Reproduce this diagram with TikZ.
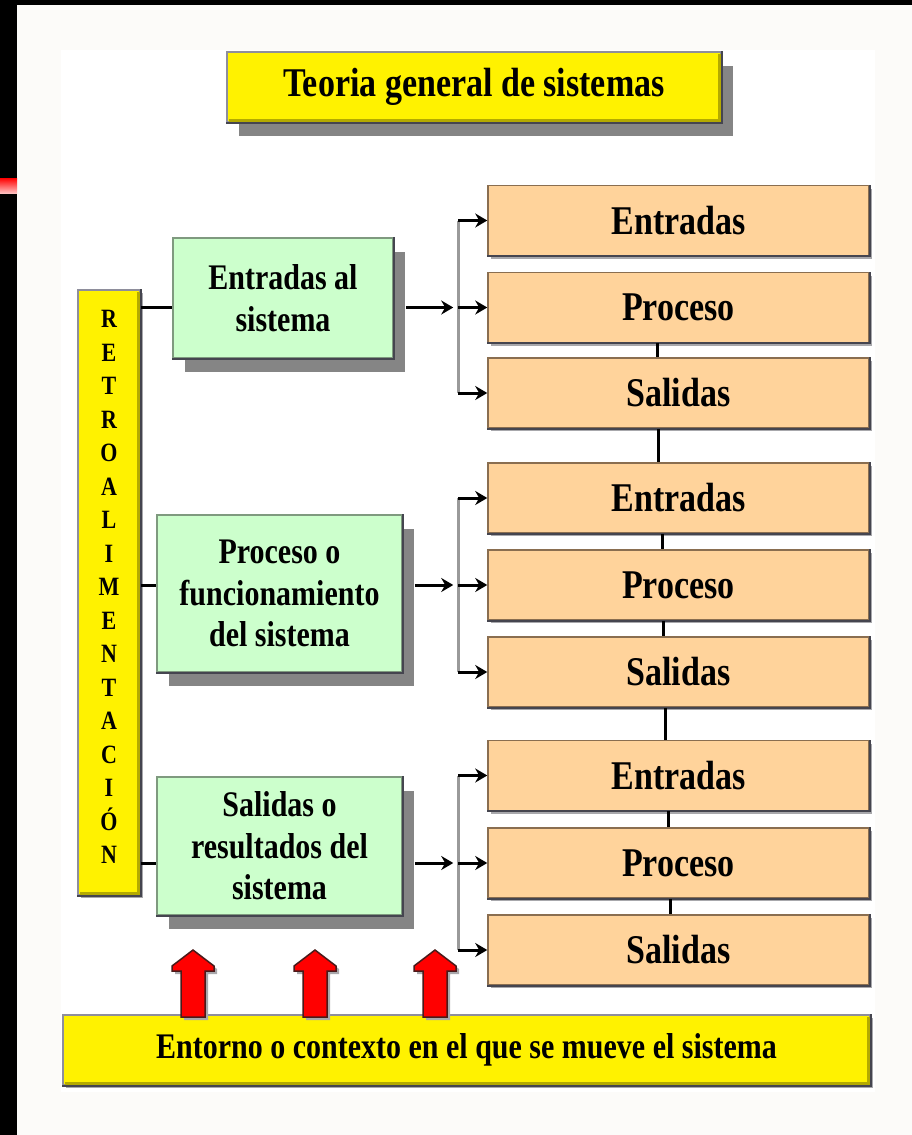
\documentclass[tikz,border=0pt]{standalone}
\usepackage{fontspec}
\usepackage{graphicx}
\setmainfont{Liberation Serif}
\usetikzlibrary{arrows.meta,calc,shadows}
\definecolor{peach}{HTML}{FFD39B}
\definecolor{mint}{HTML}{CCFFCC}
\definecolor{offw}{HTML}{FCFBF9}
\definecolor{shad}{HTML}{858585}
\definecolor{lshad}{HTML}{A8A8AC}
\definecolor{olv}{HTML}{B4AA00}
\definecolor{dk}{HTML}{45454F}
\definecolor{brn}{HTML}{8A6E50}
\definecolor{grb}{HTML}{7F9A7F}
\definecolor{bordg}{HTML}{8E8E9C}
\definecolor{brkgray}{HTML}{9A9A9A}
\definecolor{darkred}{HTML}{4A1A1A}
\newcommand\vst[1]{\scalebox{1}[1.2]{#1}}
\begin{document}
\begin{tikzpicture}[x=1pt,y=-1pt,
  ybox/.style={fill=yellow, draw=bordg, line width=1.5pt, inner sep=0pt},
  bigshadow/.style={drop shadow={shadow xshift=12pt,shadow yshift=-14pt,fill=shad,opacity=1}},
  smallshadow/.style={drop shadow={shadow xshift=3pt,shadow yshift=-3pt,fill=lshad,opacity=1}},
  gbox/.style={fill=mint, draw=grb, line width=1.5pt, inner sep=0pt, bigshadow},
  obox/.style={fill=peach, draw=brn, line width=1.5pt, inner sep=0pt, minimum width=381pt, minimum height=70pt, font=\fontsize{34}{40}\selectfont\bfseries, smallshadow},
  link/.style={line width=3pt, black},
  arr/.style={line width=3pt, black, -{Stealth[length=12pt,width=14pt]}},
  brk/.style={line width=3pt, brkgray},
  redarrow/.style={fill=red, draw=darkred, line width=1.5pt, line join=miter},
]
\useasboundingbox (0,0) rectangle (912,1135);
\fill[offw] (0,0) rectangle (912,1135);
\fill[black] (0,0) rectangle (912,5);
\fill[black] (0,0) rectangle (17,1135);
\shade[top color=red, bottom color=red!25] (0,178) rectangle (17,193);
\fill[white] (61,50) rectangle (875,1092);

% title
\node[ybox, minimum width=494pt, minimum height=70pt, bigshadow] (title) at (474,87)
  {\vst{\fontsize{34}{40}\selectfont\bfseries Teoria general de sistemas}};

% feedback bar
\node[ybox, minimum width=62pt, minimum height=605pt, smallshadow] (retro) at (109,592.5) {};
\node[inner sep=0pt] (rtxt) at ($(retro.center)+(0,-5.5)$)
  {\scalebox{1}[1.2]{\parbox{30pt}{\centering\fontsize{22}{27.9}\selectfont\bfseries R\\E\\T\\R\\O\\A\\L\\I\\M\\E\\N\\T\\A\\C\\I\\Ó\\N}}};

% green boxes
\node[gbox, minimum width=220pt, minimum height=120pt] (g1) at (283,298)
  {\vst{\parbox{220pt}{\centering\fontsize{30}{34.5}\selectfont\bfseries Entradas al\\sistema}}};
\node[gbox, minimum width=245pt, minimum height=157pt] (g2) at (279.5,593.5)
  {\vst{\parbox{245pt}{\centering\fontsize{30}{34.5}\selectfont\bfseries Proceso o\\funcionamiento\\del sistema}}};
\node[gbox, minimum width=245pt, minimum height=138pt] (g3) at (279.5,846)
  {\vst{\parbox{245pt}{\centering\fontsize{30}{34.5}\selectfont\bfseries Salidas o\\resultados del\\sistema}}};

% orange boxes
\node[obox] (e1) at (678.5,220.5) {\vst{Entradas}};
\node[obox] (p1) at (678.5,307.5) {\vst{Proceso}};
\node[obox] (s1) at (678.5,393) {\vst{Salidas}};
\node[obox] (e2) at (678.5,498) {\vst{Entradas}};
\node[obox] (p2) at (678.5,585) {\vst{Proceso}};
\node[obox] (s2) at (678.5,672) {\vst{Salidas}};
\node[obox] (e3) at (678.5,775.5) {\vst{Entradas}};
\node[obox] (p3) at (678.5,863) {\vst{Proceso}};
\node[obox] (s3) at (678.5,950) {\vst{Salidas}};

% environment bar
\node[ybox, minimum width=807pt, minimum height=70pt, smallshadow] (env) at (466.5,1050)
  {\vst{\fontsize{30}{36}\selectfont\bfseries Entorno o contexto en el que se mueve el sistema}};

% bevels
\foreach \n in {title,retro,env} {
  \draw[olv, line width=3pt] ($(\n.south west)+(2.5,-2.5)$) -- ($(\n.south east)+(-2.5,-2.5)$) -- ($(\n.north east)+(-2.5,2.5)$);
  \draw[dk, line width=2pt] (\n.south west) -- (\n.south east) -- (\n.north east);
}
\foreach \n in {g1,g2,g3,e1,p1,s1,e2,p2,s2,e3,p3,s3} {
  \draw[dk, line width=2pt] (\n.south west) -- (\n.south east) -- (\n.north east);
}

% connectors
\foreach \i in {1,2,3} {
  \draw[link] (retro.east |- p\i.west) -- (g\i.west |- p\i.west);
  \coordinate (b\i) at ($(p\i.west)+(-29,0)$);
  \draw[brk] (e\i.west -| b\i) -- (s\i.west -| b\i);
  \draw[arr, shorten >=5pt] ($(g\i.east |- p\i.west)+(12,0)$) -- (b\i);
  \draw[arr] (e\i.west -| b\i) -- (e\i.west);
  \draw[arr] (b\i) -- (p\i.west);
  \draw[arr] (s\i.west -| b\i) -- (s\i.west);
}
\draw[link] ([xshift=-21pt]p1.south) -- ([xshift=-21pt]s1.north);
\draw[link] ([xshift=-20pt]s1.south) -- ([xshift=-20pt]e2.north);
\draw[link] ([xshift=-16pt]e2.south) -- ([xshift=-16pt]p2.north);
\draw[link] ([xshift=-15pt]p2.south) -- ([xshift=-15pt]s2.north);
\draw[link] ([xshift=-13pt]s2.south) -- ([xshift=-13pt]e3.north);
\draw[link] ([xshift=-10pt]e3.south) -- ([xshift=-10pt]p3.north);
\draw[link] ([xshift=-8pt]p3.south) -- ([xshift=-8pt]s3.north);

% red arrows from the environment
\foreach \x in {193,315,435} {
  \fill[lshad, shift={(3,3)}] (\x-12,1017) -- (\x-12,971) -- (\x-21,971) -- (\x-21,966) -- (\x,950) -- (\x+21,966) -- (\x+21,971) -- (\x+12,971) -- (\x+12,1017) -- cycle;
  \draw[redarrow] (\x-12,1017) -- (\x-12,971) -- (\x-21,971) -- (\x-21,966) -- (\x,950) -- (\x+21,966) -- (\x+21,971) -- (\x+12,971) -- (\x+12,1017) -- cycle;
}
\end{tikzpicture}
\end{document}
